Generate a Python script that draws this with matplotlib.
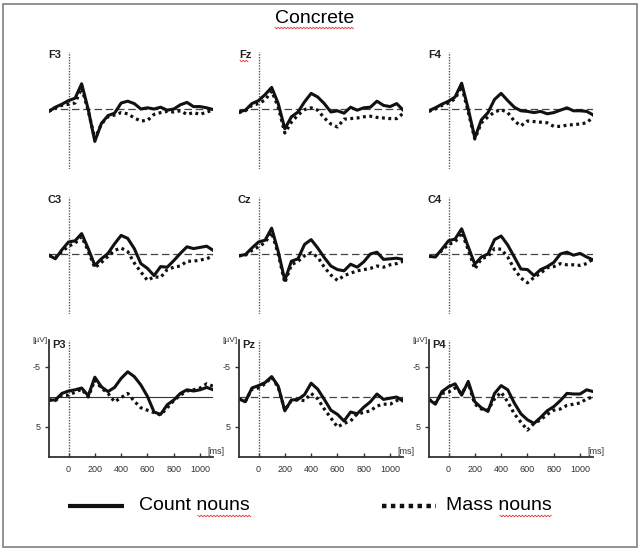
import matplotlib
matplotlib.use("Agg")
import matplotlib.pyplot as plt
from matplotlib.patches import Rectangle
from matplotlib.lines import Line2D

plt.rcParams['font.family'] = ['Liberation Sans', 'DejaVu Sans']

#########################################################################
# data, microvolts, negative plotted up
#########################################################################

times = [-150, -100, -50, 0, 50, 100, 150, 200, 250, 300, 350, 400, 450,
         500, 550, 600, 650, 700, 750, 800, 850, 900, 950, 1000, 1050, 1100]

channels = ['F3', 'Fz', 'F4', 'C3', 'Cz', 'C4', 'P3', 'Pz', 'P4']

count_F3 = [0.4, -0.3, -0.8, -1.4, -1.8, -4.2, 0.1, 5.4, 2.4, 1.1, 0.7, -1.0, -1.3,
            -0.9, 0.0, -0.2, 0.0, -0.3, 0.2, 0.0, -0.7, -1.1, -0.4, -0.4, -0.2, 0.1]
mass_F3 = [0.4, -0.2, -0.6, -0.8, -1.0, -3.5, 0.3, 5.0, 2.5, 1.3, 1.0, 0.6, 0.8,
           1.5, 2.0, 1.9, 0.9, 0.6, 0.4, 0.5, 0.3, 0.9, 0.6, 0.9, 0.5, 0.2]

count_Fz = [0.5, 0.2, -0.9, -1.4, -2.4, -3.6, -0.9, 3.3, 1.3, 0.5, -1.2, -2.6, -2.0,
            -0.9, 0.5, 0.3, 0.7, -0.3, 0.2, -0.2, -0.3, -1.3, -0.6, -0.4, -0.9, 0.2]
mass_Fz = [0.6, 0.3, -0.6, -0.9, -1.5, -3.0, -0.3, 4.0, 2.2, 1.0, 0.1, -0.2, 0.2,
           1.5, 2.5, 3.0, 1.7, 1.6, 1.5, 1.3, 1.2, 1.4, 1.5, 1.6, 1.6, 0.7]

count_F4 = [0.3, -0.2, -0.8, -1.3, -2.0, -4.3, 0.0, 4.8, 1.8, 0.6, -1.6, -2.6, -1.4,
            -0.3, 0.3, 0.4, 0.6, 0.4, 0.8, 0.6, 0.2, -0.2, 0.3, 0.3, 0.4, 1.0]
mass_F4 = [0.4, 0.0, -0.6, -1.0, -1.7, -3.8, 0.5, 5.0, 2.3, 1.3, 0.5, 0.1, 0.6,
           2.0, 2.8, 2.0, 2.1, 2.2, 2.3, 2.9, 2.9, 2.7, 2.6, 2.5, 2.3, 1.3]

count_C3 = [0.2, 0.8, -0.7, -2.0, -2.2, -3.4, -0.9, 1.9, 0.8, -0.1, -1.7, -3.1, -2.6,
            -0.9, 1.6, 2.4, 3.6, 2.1, 2.2, 1.1, -0.1, -1.2, -0.9, -1.1, -1.3, -0.6]
mass_C3 = [0.2, 0.6, -0.4, -1.3, -1.8, -2.9, -0.5, 2.3, 1.4, 0.4, -0.6, -1.0, -0.4,
           1.5, 3.0, 4.4, 3.8, 3.9, 2.6, 2.2, 2.0, 1.2, 1.2, 1.0, 0.8, 0.3]

count_Cz = [0.3, 0.1, -1.0, -2.0, -2.3, -4.3, -0.4, 4.4, 1.2, 0.8, -1.6, -2.4, -1.0,
            0.6, 2.0, 2.6, 2.8, 1.7, 2.2, 1.3, 0.0, -0.3, 0.9, 0.8, 0.7, 0.9]
mass_Cz = [0.3, 0.2, -0.6, -1.2, -1.9, -3.6, 0.0, 4.8, 1.8, 1.2, 0.3, -0.2, 0.5,
           2.2, 3.5, 4.4, 3.6, 3.2, 2.8, 2.6, 2.4, 2.0, 2.2, 1.8, 1.6, 1.2]

count_C4 = [0.4, 0.5, -0.8, -2.2, -2.5, -4.2, -1.2, 1.7, 0.5, 0.0, -2.4, -3.0, -1.5,
            0.5, 2.5, 2.6, 3.6, 2.6, 2.1, 1.4, 0.0, -0.3, 0.2, -0.1, 0.5, 1.0]
mass_C4 = [0.4, 0.4, -0.6, -1.6, -2.0, -3.6, -0.7, 2.5, 0.8, 0.4, -0.9, -0.8, 0.5,
           2.5, 4.0, 4.8, 3.9, 3.2, 2.3, 2.1, 1.6, 1.8, 1.8, 1.9, 1.6, 0.8]

count_P3 = [0.5, 0.5, -0.6, -1.0, -1.2, -1.5, -0.2, -3.3, -1.7, -0.9, -1.6, -3.1, -4.2,
            -3.4, -2.0, -0.1, 2.5, 2.9, 1.3, 0.5, -0.6, -1.2, -1.0, -1.2, -1.6, -1.2]
mass_P3 = [0.5, 0.6, -0.3, -0.3, -0.8, -1.3, 0.0, -2.8, -1.5, -0.6, 0.8, 0.1, -0.6,
           0.7, 1.8, 2.2, 2.6, 3.0, 1.8, 0.6, -0.3, -1.0, -1.2, -1.5, -2.2, -1.8]

count_Pz = [0.3, 0.8, -1.5, -1.9, -2.4, -3.4, -1.8, 2.3, 0.5, 0.4, -0.4, -2.3, -1.3,
            0.4, 2.2, 2.9, 4.0, 2.5, 2.8, 1.7, 0.8, -0.5, 0.4, 0.2, 0.0, 0.7]
mass_Pz = [0.3, 0.7, -1.3, -1.5, -2.2, -3.3, -1.6, 2.2, 0.6, 0.5, 0.6, -0.6, 0.3,
           2.0, 3.5, 5.0, 4.4, 4.0, 2.8, 2.6, 2.3, 1.5, 1.2, 1.2, 0.6, 0.4]

count_P4 = [0.4, 1.2, -0.9, -1.7, -2.2, -0.3, -2.6, 0.8, 1.8, 2.4, -0.6, -1.9, -1.2,
            1.0, 2.8, 3.8, 4.4, 3.4, 2.3, 1.6, 0.6, -0.6, -0.5, -0.5, -1.2, -0.9]
mass_P4 = [0.4, 1.0, -0.6, -0.8, -1.5, -0.6, -2.3, 1.2, 2.0, 2.2, 0.3, -0.8, 0.8,
           2.8, 4.2, 5.5, 4.4, 3.8, 2.9, 2.2, 2.0, 1.4, 1.2, 1.0, 0.3, 0.0]

count_data = [count_F3, count_Fz, count_F4, count_C3, count_Cz, count_C4,
              count_P3, count_Pz, count_P4]
mass_data = [mass_F3, mass_Fz, mass_F4, mass_C3, mass_Cz, mass_C4,
             mass_P3, mass_Pz, mass_P4]

x_ticks = [0, 200, 400, 600, 800, 1000]
y_ticks = [-5, 5]

#########################################################################
# layout (pixels of a 641x551 picture)
#########################################################################

W, H = 641.0, 551.0
sx = 0.1316      # px per ms
sy = 6.0         # px per uV
t_lo, t_hi = -150, 1100
v_top, v_bot = -9.5, 10

col_zero = [68.5, 258.5, 448.5]
row_top = [52, 197, 340]

fig = plt.figure(figsize=(W / 100, H / 100), dpi=100)

def fx(px):
    return px / W

def fy(py):
    return 1 - py / H

def squiggle(x0, x1, y):
    # red spell-check underline, like the word processor draws it
    xs, ys = [], []
    k = 0
    x = x0
    while x <= x1:
        xs.append(fx(x))
        ys.append(fy(y + (1 if k % 2 else -1) * 0.8))
        x += 1.6
        k += 1
    fig.add_artist(Line2D(xs, ys, color='#e03030', lw=0.6))

for i, name in enumerate(channels):
    r, c = divmod(i, 3)
    left = col_zero[c] + t_lo * sx
    width = (t_hi - t_lo) * sx
    height = (v_bot - v_top) * sy
    ax = fig.add_axes([fx(left), fy(row_top[r] + height), width / W, height / H])
    ax.set_xlim(t_lo, t_hi)
    ax.set_ylim(v_bot, v_top)
    ax.patch.set_alpha(0)

    ax.axvline(0, color='#555555', lw=1, ls=(0, (1, 1)))
    if name == 'P3':
        ax.axhline(0, color='#333333', lw=0.8)
    else:
        ax.axhline(0, color='#444444', lw=0.9, ls=(0, (6, 3)))

    ax.plot(times, mass_data[i], color='#111111', lw=2.3, ls=(0, (0.9, 1.1)))
    ax.plot(times, count_data[i], color='#111111', lw=2.2, solid_joinstyle='round')

    for s in ['top', 'right']:
        ax.spines[s].set_visible(False)

    if r < 2:
        ax.spines['left'].set_visible(False)
        ax.spines['bottom'].set_visible(False)
        ax.set_xticks([])
        ax.set_yticks([])
        fig.text(fx(col_zero[c] - 7), fy(row_top[r] + 3), name, ha='right', va='center',
                 fontsize=8, fontweight='bold', color='#222222')
    else:
        for s in ['left', 'bottom']:
            ax.spines[s].set_linewidth(1.3)
            ax.spines[s].set_color('#333333')
        ax.set_xticks(x_ticks)
        ax.set_xticklabels([str(v) for v in x_ticks])
        ax.set_yticks(y_ticks)
        ax.set_yticklabels([str(v) for v in y_ticks])
        ax.tick_params(axis='x', direction='in', length=3, width=1, labelsize=6.5,
                       pad=6, colors='#333333')
        ax.tick_params(axis='y', direction='out', length=3, width=1, labelsize=6.5,
                       pad=3, colors='#333333')
        fig.text(fx(col_zero[c] - 3), fy(row_top[r] + 5), name, ha='right', va='center',
                 fontsize=8, fontweight='bold', color='#222222')
        fig.text(fx(left - 9), fy(row_top[r] + 1), '[\u00b5V]', ha='center', va='center',
                 fontsize=6, color='#333333')
        fig.text(fx(left + width + 3), fy(row_top[r] + height - 5), '[ms]', ha='center',
                 va='center', fontsize=6.5, color='#333333')

# title
fig.text(fx(315), fy(18.5), 'Concrete', ha='center', va='center', fontsize=14)
squiggle(275, 355, 28)
squiggle(240, 249, 61)

# legend
fig.add_artist(Line2D([fx(68), fx(124)], [fy(506), fy(506)], color='#111111', lw=3,
                      solid_capstyle='butt'))
fig.text(fx(139), fy(506), 'Count nouns', ha='left', va='center', fontsize=14)
fig.add_artist(Line2D([fx(382), fx(436)], [fy(506), fy(506)], color='#111111', lw=3.2,
                      ls=(0, (1, 1)), dash_capstyle='butt'))
fig.text(fx(446), fy(506), 'Mass nouns', ha='left', va='center', fontsize=14)
squiggle(198, 251, 516)
squiggle(500, 552, 516)

# frame round the whole picture
fig.add_artist(Rectangle((fx(3), fy(546.5)), 634 / W, 542.5 / H, transform=fig.transFigure,
                         fill=False, edgecolor='#7f7f7f', lw=1.2))

fig.savefig('out.png', dpi=100)
